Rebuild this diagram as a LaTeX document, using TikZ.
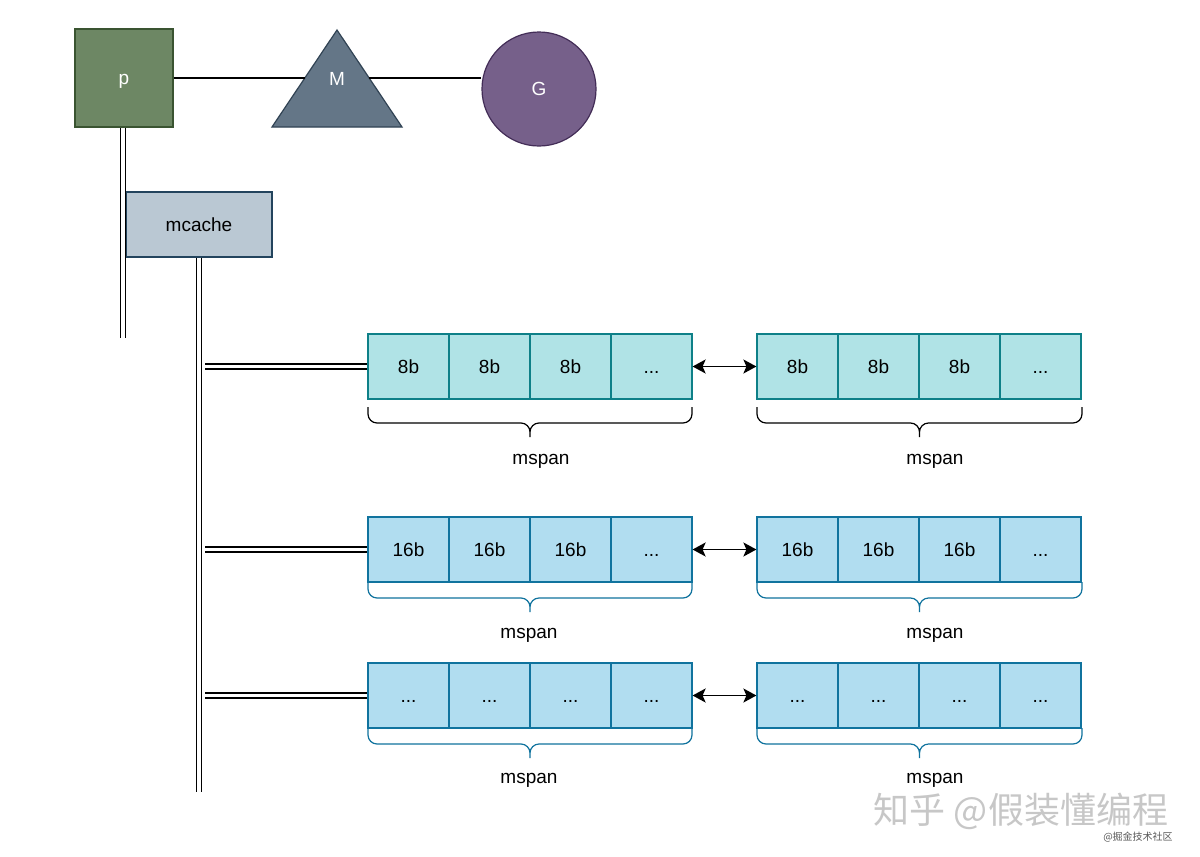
\documentclass[tikz,border=0pt]{standalone}
\usepackage{fontspec}
\setmainfont{Liberation Sans}
\newfontfamily\cjk{Noto Sans CJK SC}
\usetikzlibrary{arrows.meta}
\definecolor{pfill}{HTML}{6D8764}\definecolor{pdraw}{HTML}{3A5431}
\definecolor{mfill}{HTML}{647687}\definecolor{mdraw}{HTML}{314354}
\definecolor{gfill}{HTML}{76608A}\definecolor{gdraw}{HTML}{432D57}
\definecolor{cfill}{HTML}{BAC8D3}\definecolor{cdraw}{HTML}{23445D}
\definecolor{tfill}{HTML}{B0E3E6}\definecolor{tdraw}{HTML}{0E8088}
\definecolor{bfill}{HTML}{B1DDF0}\definecolor{bdraw}{HTML}{10739E}
\newcommand\tdots{...}
\begin{document}
\begin{tikzpicture}[x=1pt,y=-1pt,
  txt/.style={font=\fontsize{19}{22}\selectfont, text height=14pt, text depth=1pt},
  cell/.style={draw, line width=1.2pt, minimum width=81pt, minimum height=65pt, inner sep=0pt, txt},
  dbl/.style={double, double distance=3.6pt, line width=1.4pt},
  link/.style={line width=1.3pt},
  biarrow/.style={line width=1.8pt, {Stealth[length=13pt,width=14pt,inset=3pt]}-{Stealth[length=13pt,width=14pt,inset=3pt]}}]
\fill[white] (0,0) rectangle (1200,857);
\useasboundingbox (0,0) rectangle (1200,857);
% top: p, M, G
\node[draw=pdraw, fill=pfill, line width=1.2pt, minimum width=98pt, minimum height=98pt, inner sep=0pt, text=white, txt] (p) at (124,78) {p};
\coordinate (Ml) at (272,127); \coordinate (Mt) at (337,30); \coordinate (Mr) at (402,127);
\draw[draw=mdraw, fill=mfill, line width=1.2pt] (Ml) -- (Mt) -- (Mr) -- cycle;
\node[text=white, txt] (M) at (337,79) {M};
\node[circle, draw=gdraw, fill=gfill, line width=1.2pt, minimum size=114pt, inner sep=0pt, text=white, txt] (G) at (539,89) {G};
\coordinate (Mle) at (304.8,78); \coordinate (Mre) at (369.2,78);
\draw[link] (p.east |- Mle) -- (Mle);
\draw[link] (Mre) -- (Mre -| G.west);
% mcache
\node[draw=cdraw, fill=cfill, line width=1.2pt, minimum width=146pt, minimum height=65pt, inner sep=0pt, txt] (mc) at (199,224.5) {mcache};
\coordinate (pend) at (123,338);
\draw[dbl] (pend |- p.south) -- (pend);
\coordinate (mcend) at (199,792);
\draw[dbl] (mc.south) -- (mcend);
% rows
\foreach \r/\y/\t/\f/\d/\bc/\bt/\bm/\bb/\ly/\lx in {
  1/366.5/8b/tfill/tdraw/black/407/423/437/458/541,
  2/549.5/16b/bfill/bdraw/bdraw/582/598/612/632/529,
  3/695.5/\tdots/bfill/bdraw/bdraw/728/744/758/777/529}{
  \foreach \i in {1,2,3}{
    \node[cell, draw=\d, fill=\f] (r\r a\i) at (408.5+81*\i-81,\y) {\t};
    \node[cell, draw=\d, fill=\f] (r\r b\i) at (797.5+81*\i-81,\y) {\t};
  }
  \node[cell, draw=\d, fill=\f] (r\r a4) at (651.5,\y) {\tdots};
  \node[cell, draw=\d, fill=\f] (r\r b4) at (1040.5,\y) {\tdots};
  \coordinate (h\r) at (205,\y);
  \draw[dbl] (h\r) -- (r\r a1.west |- h\r);
  \draw[biarrow] (r\r a4.east) -- (r\r b1.west);
  \draw[\bc, line width=1.2pt, rounded corners=9pt]
     (368,\bt) -- (368,\bm) -- (530,\bm) -- (530,\bb)
     (692,\bt) -- (692,\bm) -- (530,\bm) -- (530,\bb);
  \draw[\bc, line width=1.2pt, rounded corners=9pt]
     (757,\bt) -- (757,\bm) -- (919.5,\bm) -- (919.5,\bb)
     (1082,\bt) -- (1082,\bm) -- (919.5,\bm) -- (919.5,\bb);
  \node[txt] (ms\r a) at (\lx,\ly) {mspan};
  \node[txt] (ms\r b) at (935,\ly) {mspan};
}
% watermark
\node[text=black!22, font=\cjk\fontsize{36}{40}\selectfont] (wm) at (1021,811) {知乎 @假装懂编程};
\node[text=black!65, font=\cjk\fontsize{10}{12}\selectfont, anchor=north] (wm2) at (1138,828) {@掘金技术社区};
\end{tikzpicture}
\end{document}
